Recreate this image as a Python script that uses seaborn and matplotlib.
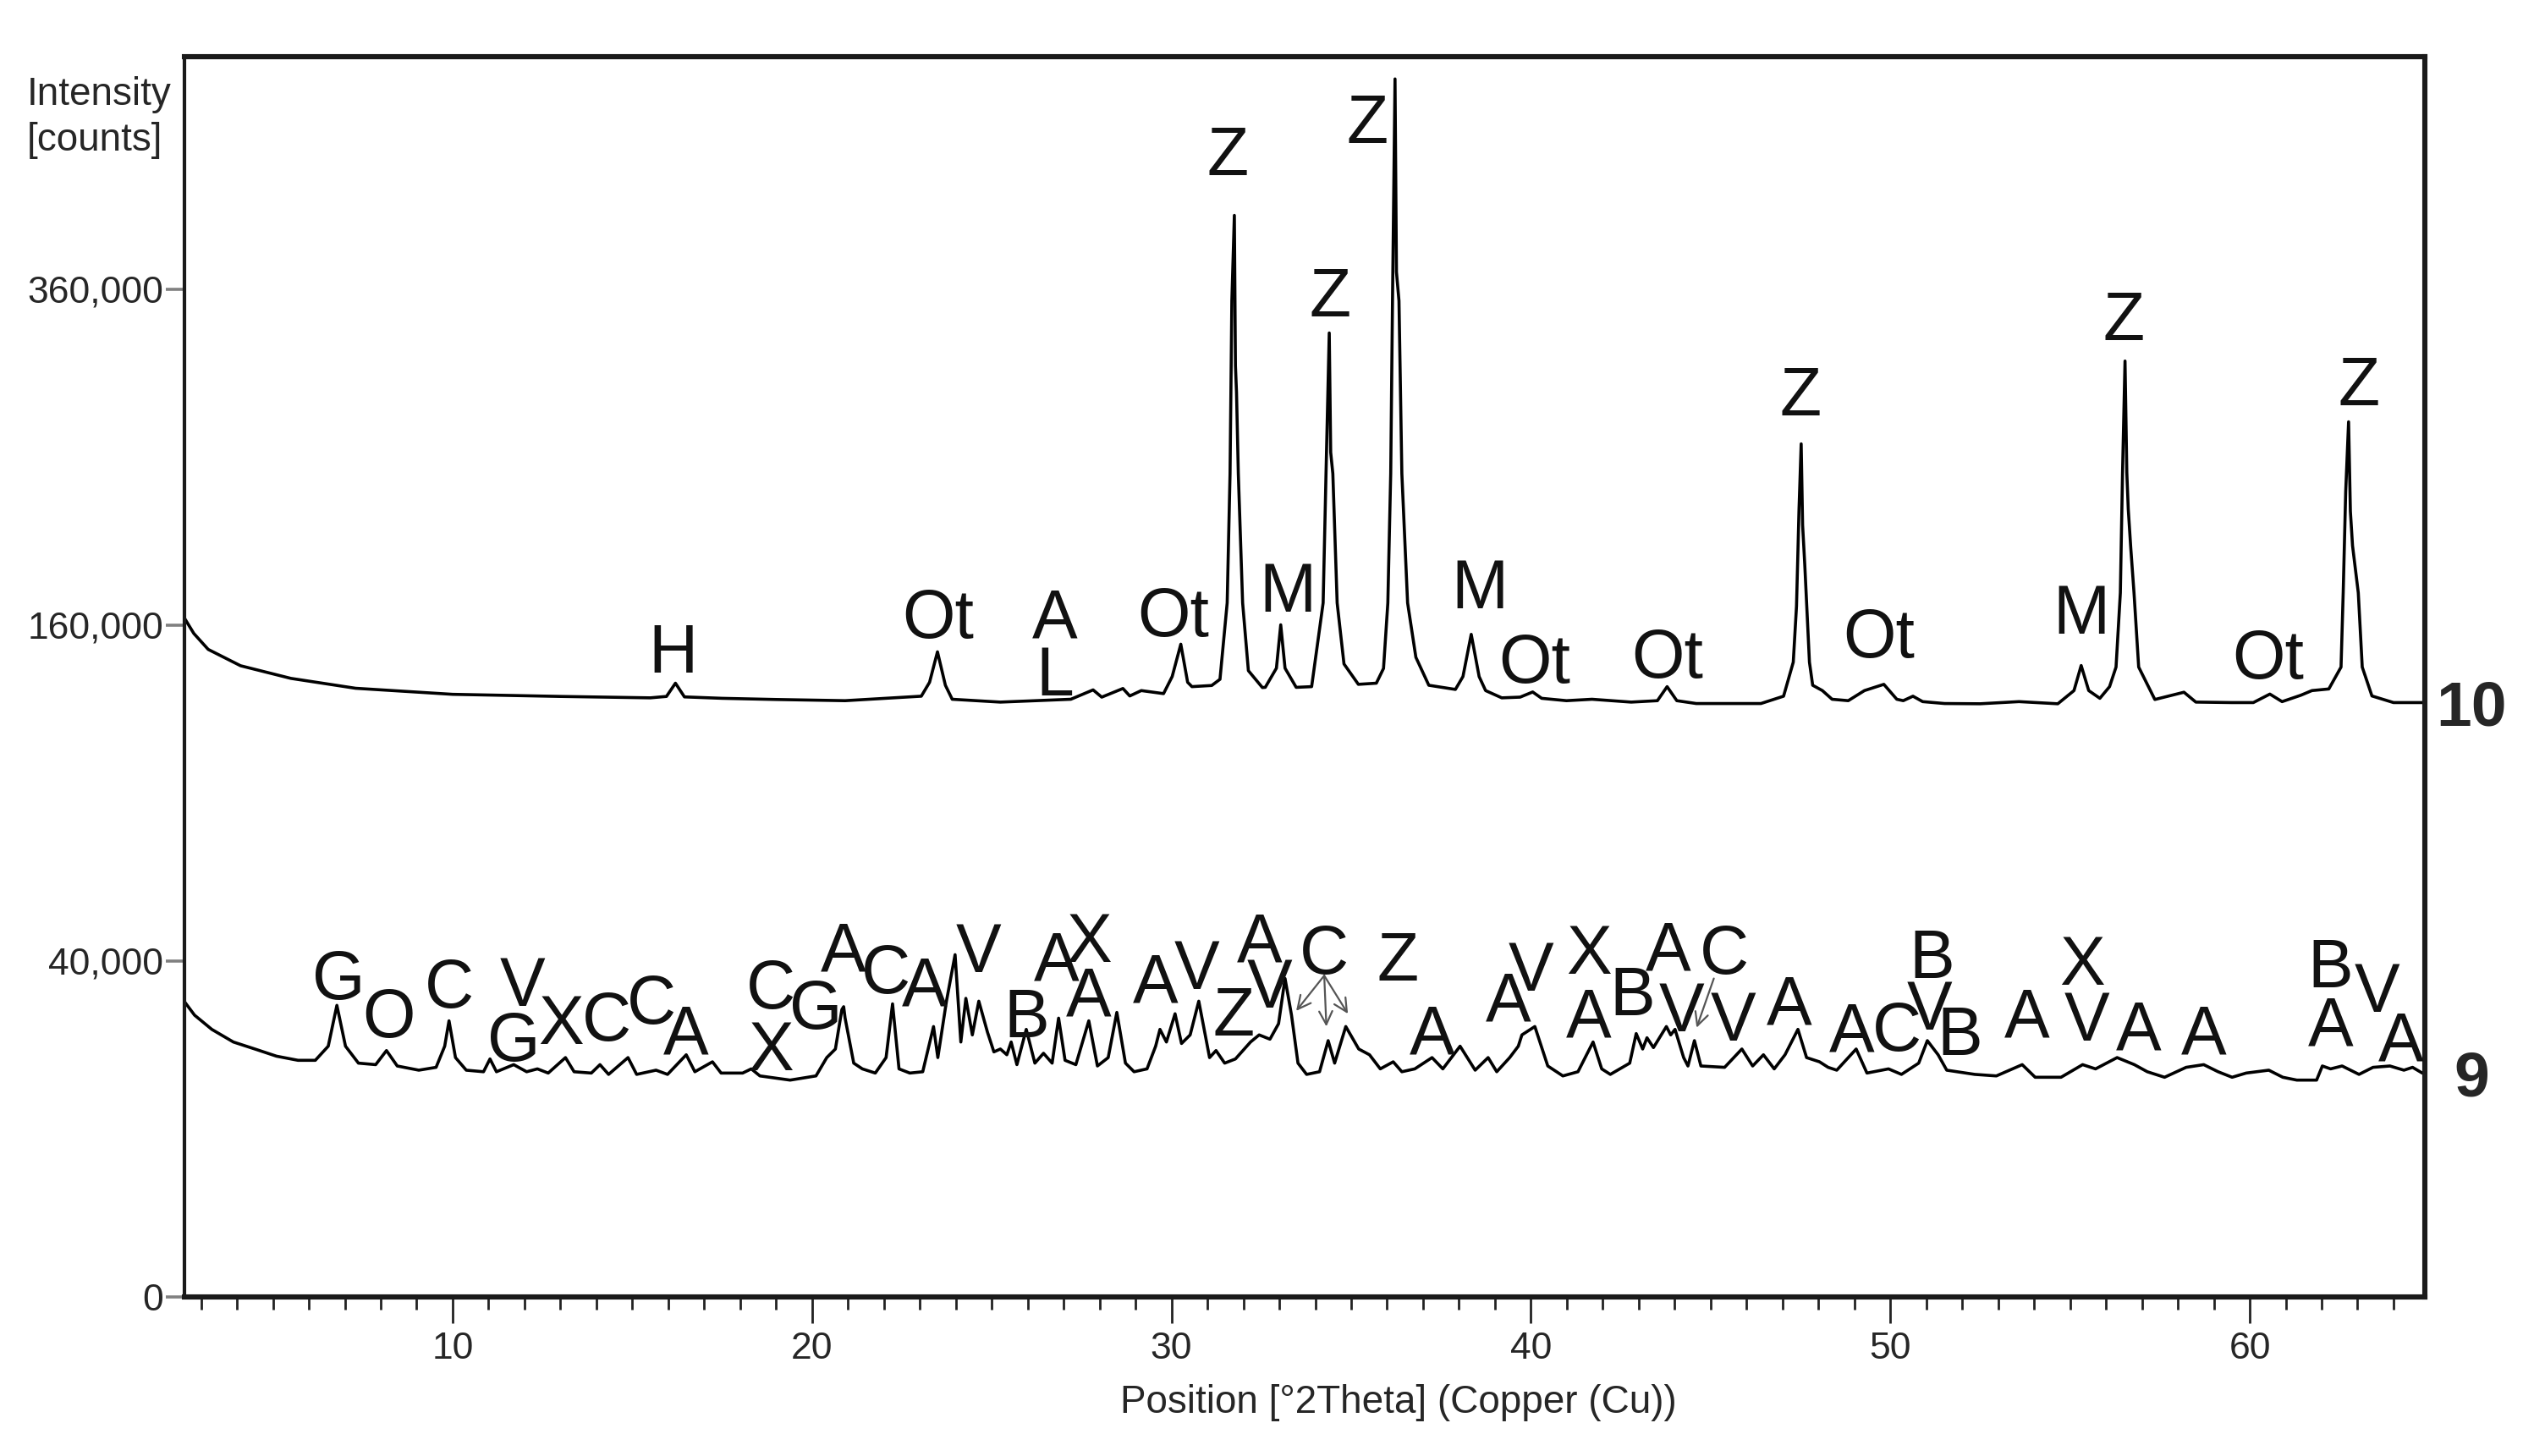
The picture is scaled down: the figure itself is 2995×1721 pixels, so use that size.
import numpy as np
import pandas as pd
import matplotlib
matplotlib.use('Agg')
import matplotlib.pyplot as plt
from matplotlib.ticker import MultipleLocator, FixedLocator, StrMethodFormatter
import seaborn as sns

# Amostra 10: posição [°2Theta] e intensidade [counts]
pos_10 = [2.55, 2.8, 3.2, 4.1, 5.5, 7.3, 10.0, 13.0, 15.5, 15.95, 16.2, 16.45, 17.5, 19.0,
          20.92, 23.04, 23.27, 23.49, 23.71, 23.9, 25.24, 27.2, 27.82, 28.06, 28.65, 28.84,
          29.16, 29.78, 30.02, 30.26, 30.45, 30.57, 31.12, 31.35, 31.55, 31.63, 31.68, 31.75,
          31.78, 31.81, 31.86, 31.98, 32.14, 32.53, 32.61, 32.92, 33.04, 33.16, 33.47, 33.9,
          34.22, 34.3, 34.39, 34.43, 34.49, 34.61, 34.8, 35.2, 35.7, 35.9, 36.02, 36.1,
          36.15, 36.22, 36.26, 36.33, 36.41, 36.57, 36.8, 37.16, 37.9, 38.11, 38.34, 38.56,
          38.74, 39.19, 39.7, 40.05, 40.3, 40.99, 41.7, 42.79, 43.52, 43.79, 44.06, 44.6,
          46.4, 47.03, 47.3, 47.39, 47.46, 47.52, 47.56, 47.62, 47.75, 47.84, 48.11, 48.38,
          48.83, 49.28, 49.82, 50.18, 50.36, 50.63, 50.9, 51.51, 52.5, 53.58, 54.66, 55.11,
          55.31, 55.52, 55.83, 56.1, 56.28, 56.4, 56.46, 56.53, 56.58, 56.62, 56.69, 56.78,
          56.91, 57.36, 58.17, 58.5, 59.5, 60.1, 60.56, 60.9, 61.42, 61.73, 62.2, 62.54,
          62.6, 62.67, 62.75, 62.8, 62.86, 63.02, 63.13, 63.4, 64.0, 64.9]
cnt_10 = [163000, 156000, 148600, 141200, 135600, 131300, 128700, 127800, 127200, 127800,
          133500, 127600, 127000, 126500, 126000, 127900, 133900, 147500, 132600, 126600,
          125400, 126600, 130600, 127500, 131200, 128000, 130300, 129000, 136400, 151000,
          133900, 132000, 132500, 135200, 170700, 240200, 351600, 414500, 307300, 290000,
          240200, 170700, 139000, 131600, 131700, 140100, 160100, 140100, 131700, 132000,
          170700, 240200, 329300, 252800, 240200, 170700, 142000, 133000, 133500, 140000,
          170700, 240200, 351600, 525700, 372200, 351600, 240200, 170700, 145000, 132600,
          130800, 136400, 155600, 136400, 130300, 127200, 127500, 129700, 127000, 126000,
          126600, 125400, 126000, 132000, 126000, 124800, 124800, 127900, 142800, 169100,
          220000, 257900, 211100, 190000, 142800, 132600, 130300, 126600, 126000, 130300,
          133000, 126600, 126000, 127900, 125600, 124800, 124700, 125600, 124700, 130300,
          141300, 130300, 127000, 132000, 140600, 175700, 240000, 310400, 240800, 220000,
          198800, 175700, 140600, 126500, 129600, 125400, 125200, 125200, 128800, 125600,
          128300, 130300, 131000, 140600, 175700, 230000, 271400, 218800, 200000, 175700,
          140600, 128000, 125200, 125200]

# Amostra 9
pos_9 = [2.55, 2.82, 3.30, 3.90, 4.50, 5.10, 5.70, 6.18, 6.54, 6.78, 7.02, 7.38, 7.86, 8.16,
         8.46, 9.06, 9.54, 9.78, 9.90, 10.08, 10.38, 10.86, 11.04, 11.22, 11.70, 12.06, 12.36,
         12.66, 13.14, 13.38, 13.86, 14.10, 14.34, 14.88, 15.12, 15.66, 15.98, 16.50, 16.74,
         17.23, 17.47, 18.07, 18.31, 18.55, 19.39, 20.11, 20.41, 20.65, 20.83, 20.88, 20.92,
         21.16, 21.40, 21.76, 22.06, 22.24, 22.42, 22.72, 23.08, 23.38, 23.50, 23.74, 23.98,
         24.14, 24.28, 24.46, 24.64, 24.88, 25.06, 25.24, 25.42, 25.54, 25.70, 25.96, 26.20,
         26.44, 26.68, 26.86, 27.04, 27.34, 27.70, 27.94, 28.24, 28.48, 28.72, 28.96, 29.32,
         29.56, 29.68, 29.86, 30.10, 30.28, 30.52, 30.76, 31.06, 31.24, 31.48, 31.78, 32.20,
         32.44, 32.74, 32.98, 33.16, 33.34, 33.52, 33.76, 34.12, 34.36, 34.54, 34.85, 35.21,
         35.51, 35.81, 36.17, 36.41, 36.77, 37.25, 37.55, 38.03, 38.45, 38.81, 39.05, 39.41,
         39.65, 39.75, 40.11, 40.47, 40.89, 41.31, 41.73, 41.97, 42.21, 42.75, 42.93, 43.11,
         43.23, 43.41, 43.77, 43.89, 44.01, 44.25, 44.37, 44.55, 44.73, 45.39, 45.87, 46.17,
         46.47, 46.77, 47.07, 47.43, 47.67, 48.03, 48.27, 48.51, 49.05, 49.35, 49.95, 50.31,
         50.79, 51.03, 51.33, 51.57, 52.35, 52.95, 53.67, 54.03, 54.75, 55.35, 55.71, 56.31,
         56.79, 57.15, 57.63, 58.23, 58.72, 59.12, 59.51, 59.90, 60.53, 60.92, 61.31, 61.86,
         62.02, 62.25, 62.57, 63.04, 63.43, 63.90, 64.29, 64.53, 64.80, 64.9]
cnt_9 = [30800, 28150, 25380, 23040, 21790, 20550, 19850, 19850, 22290, 30140, 22290, 19380,
         19130, 21520, 18910, 18230, 18690, 22290, 27030, 20310, 18230, 17980, 20080, 17980,
         19130, 17980, 18440, 17770, 20310, 17980, 17770, 19130, 17560, 20310, 17560, 18230,
         17560, 20790, 17980, 19600, 17770, 17770, 18440, 17320, 16670, 17320, 20310, 21790,
         29270, 29860, 27560, 19380, 18440, 17770, 20310, 30450, 18440, 17770, 17980, 25920,
         20310, 31010, 41530, 23040, 31610, 24340, 31010, 24870, 21290, 21790, 20790, 23040,
         19130, 25380, 19380, 21050, 19380, 27560, 19850, 19130, 27030, 18910, 20310, 28700,
         19380, 17980, 18440, 22290, 25380, 23040, 28430, 22770, 24340, 31010, 20310, 21520,
         19380, 20080, 23040, 24340, 23550, 26470, 35950, 28150, 19380, 17560, 17980, 23290,
         19380, 25920, 21790, 20790, 18440, 19600, 17980, 18440, 20310, 18440, 22290, 18230,
         20310, 17980, 20310, 22290, 24340, 25920, 18910, 17320, 17980, 23040, 18440, 17560,
         19380, 24590, 21790, 23810, 22040, 25920, 24340, 25380, 20310, 18910, 23290, 18910,
         18690, 21790, 18910, 20790, 18440, 20790, 25380, 20310, 19600, 18690, 18230, 21790,
         17770, 18440, 17560, 19380, 23290, 20790, 18230, 17560, 17320, 19130, 17110, 17110,
         19130, 18440, 20310, 19130, 17980, 17110, 18690, 19130, 17980, 17110, 17770, 18230,
         17110, 16670, 16670, 18910, 18440, 18910, 17560, 18690, 18910, 18230, 18690, 17770,
         17690]

# Identificação das fases (letra, posição, intensidade)
fases_10 = [("H", 16.13, 149300), ("Ot", 23.51, 165700), ("A", 26.76, 165700),
            ("L", 26.76, 139000), ("Ot", 30.05, 166500), ("Z", 31.56, 466000),
            ("M", 33.23, 178700), ("Z", 34.41, 358200), ("Z", 35.44, 492500),
            ("M", 38.57, 180400), ("Ot", 40.1, 144700), ("Ot", 43.8, 147000),
            ("Z", 47.51, 291100), ("Ot", 49.68, 156400), ("M", 55.31, 167700),
            ("Z", 56.5, 341500), ("Ot", 60.52, 146600), ("Z", 63.04, 297700)]

fases_9 = [("G", 6.84, 36900), ("O", 8.22, 28700), ("C", 9.90, 35000), ("V", 11.94, 35300),
           ("G", 11.70, 24090), ("X", 13.02, 27290), ("C", 14.28, 27890), ("C", 15.54, 31370),
           ("A", 16.50, 25380), ("C", 18.85, 34740), ("X", 18.85, 22320), ("G", 20.11, 30450),
           ("A", 20.86, 43510), ("C", 22.06, 38200), ("A", 23.14, 35300), ("V", 24.64, 43300),
           ("A", 26.80, 41220), ("X", 27.70, 45840), ("B", 25.96, 28700), ("A", 27.70, 33160),
           ("A", 29.56, 36170), ("V", 30.70, 39200), ("Z", 31.72, 29000), ("A", 32.44, 45840),
           ("V", 32.74, 35000), ("C", 34.25, 42930), ("Z", 36.29, 41220), ("A", 37.25, 25380),
           ("A", 39.37, 32150), ("V", 40.00, 38800), ("X", 41.61, 42930), ("A", 41.61, 28700),
           ("B", 42.81, 33160), ("A", 43.83, 43710), ("C", 45.39, 42930), ("V", 44.19, 29860),
           ("V", 45.63, 27890), ("A", 47.19, 31370), ("A", 48.93, 25980), ("C", 50.19, 25980),
           ("B", 51.15, 41900), ("V", 51.09, 30200), ("B", 51.93, 25180), ("A", 53.79, 28700),
           ("X", 55.35, 40200), ("V", 55.47, 27890), ("A", 56.91, 26200), ("A", 58.72, 25380),
           ("B", 62.25, 39530), ("A", 62.25, 27030), ("V", 63.55, 34050), ("A", 64.21, 24090)]

# setas (origem -> pico)
setas = [((34.25, 36600), (33.47, 29000)), ((34.25, 36600), (34.31, 25920)),
         ((34.25, 36600), (34.91, 28430)), ((45.09, 35950), (44.61, 25700))]

# ================= PLOTAGEM =================
sns.set_style("ticks")
plt.rcParams['font.family'] = ['Liberation Sans', 'DejaVu Sans']

df10 = pd.DataFrame({'pos': pos_10, 'counts': cnt_10})
df9 = pd.DataFrame({'pos': pos_9, 'counts': cnt_9})

fig = plt.figure(figsize=(14.975, 8.605), dpi=200)
ax = fig.add_axes([0.0728, 0.1092, 0.8841, 0.8518])

# escala raiz quadrada (como no software do difratômetro)
ax.set_yscale('function', functions=(lambda v: np.sqrt(np.clip(v, 0, None)), lambda s: s ** 2))

sns.lineplot(data=df10, x='pos', y='counts', ax=ax, color='black', linewidth=1.3,
             estimator=None, sort=False)
sns.lineplot(data=df9, x='pos', y='counts', ax=ax, color='black', linewidth=1.3,
             estimator=None, sort=False)

ax.set_xlim(2.54, 64.87)
ax.set_ylim(0, 545000)

FS_LETRA = 29
for txt, x, y in fases_10 + fases_9:
    ax.annotate(txt, xy=(x, y), xytext=(0, -0.36 * FS_LETRA), textcoords='offset points',
                ha='center', va='baseline', fontsize=FS_LETRA, color='#111111')

for origem, destino in setas:
    ax.annotate('', xy=destino, xytext=origem,
                arrowprops=dict(arrowstyle='->', color='#555555', lw=0.8,
                                shrinkA=0, shrinkB=0, mutation_scale=14))

# número das amostras à direita
ax.annotate('10', xy=(1.021, cnt_10[-1]), xycoords=('axes fraction', 'data'),
            xytext=(0, -0.36 * 27), textcoords='offset points', ha='center', va='baseline',
            fontsize=27, fontweight='bold', annotation_clip=False)
ax.annotate('9', xy=(1.021, cnt_9[-1]), xycoords=('axes fraction', 'data'),
            xytext=(0, -0.36 * 27), textcoords='offset points', ha='center', va='baseline',
            fontsize=27, fontweight='bold', annotation_clip=False)

# eixos
ax.yaxis.set_major_locator(FixedLocator([0, 40000, 160000, 360000]))
ax.yaxis.set_major_formatter(StrMethodFormatter('{x:,.0f}'))
ax.xaxis.set_major_locator(MultipleLocator(10))
ax.xaxis.set_minor_locator(MultipleLocator(1))
ax.yaxis.set_minor_locator(FixedLocator([]))

ax.tick_params(axis='y', which='major', direction='out', length=8, width=1.3,
               color='#808080', pad=1, labelsize=16)
ax.tick_params(axis='x', which='major', direction='out', length=11, width=1.0,
               color='#222222', pad=3.6, labelsize=16)
ax.tick_params(axis='x', which='minor', direction='out', length=5.5, width=1.0,
               color='#222222')

for lado in ['top', 'bottom', 'right']:
    ax.spines[lado].set_linewidth(2.2)
    ax.spines[lado].set_color('#1a1a1a')
ax.spines['left'].set_linewidth(1.5)
ax.spines['left'].set_color('#1a1a1a')

ax.set_ylabel('')
ax.set_xlabel('Position [°2Theta] (Copper (Cu))', fontsize=16.5)
ax.xaxis.set_label_coords(0.542, -0.0703)
ax.xaxis.label.set_va('top')

fig.text(0.0107, 0.9477, 'Intensity\n[counts]', ha='left', va='top', fontsize=16.5,
         linespacing=1.3)

fig.savefig('out.png', dpi=200)
